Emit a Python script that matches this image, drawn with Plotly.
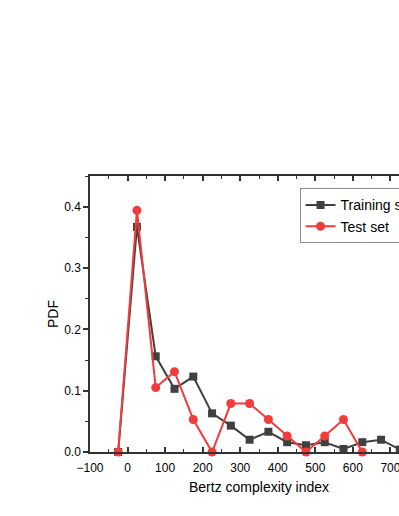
import plotly.graph_objects as go

# bin centres (Bertz complexity index) and PDF values
bins = [-25, 25, 75, 125, 175, 225, 275, 325, 375, 425, 475, 525, 575, 625, 675, 725, 775]
train_pdf = [0.0, 0.367, 0.156, 0.103, 0.123, 0.063, 0.043, 0.020, 0.033, 0.016,
             0.011, 0.016, 0.005, 0.016, 0.020, 0.004, 0.0]
test_bins = [-25, 25, 75, 125, 175, 225, 275, 325, 375, 425, 475, 525, 575, 625]
test_pdf = [0.0, 0.394, 0.105, 0.131, 0.053, 0.0, 0.079, 0.079, 0.053, 0.026,
            0.0, 0.026, 0.053, 0.0]

FONT = "Liberation Sans, Arial, sans-serif"
AXIS = "#333333"

fig = go.Figure()

fig.add_trace(go.Scatter(
    x=bins, y=train_pdf, name="Training set", mode="lines+markers",
    line=dict(color="#404040", width=2),
    marker=dict(symbol="square", size=8, color="#404040"),
    cliponaxis=False,
))
fig.add_trace(go.Scatter(
    x=test_bins, y=test_pdf, name="Test set", mode="lines+markers",
    line=dict(color="#f23b3b", width=2),
    marker=dict(symbol="circle", size=9, color="#f23b3b"),
    cliponaxis=False,
))
# invisible trace so the top axis gets drawn
fig.add_trace(go.Scatter(x=[None], y=[None], xaxis="x2", showlegend=False, hoverinfo="skip"))

fig.update_layout(
    width=470, height=516,
    margin=dict(l=90, r=42, t=176, b=64),
    paper_bgcolor="white", plot_bgcolor="white",
    font=dict(family=FONT, color="black", size=12),
    showlegend=True,
    legend=dict(
        x=0.62, y=0.955, xanchor="left", yanchor="top",
        bgcolor="white", bordercolor="#8a8a8a", borderwidth=1,
        font=dict(size=14), tracegroupgap=0, itemwidth=30,
    ),
    xaxis=dict(
        range=[-100, 800], dtick=100, tick0=0,
        showgrid=False, zeroline=False,
        showline=True, linecolor=AXIS, linewidth=1.5,
        ticks="inside", ticklen=5, tickcolor=AXIS, tickwidth=1.5,
        minor=dict(ticks="inside", ticklen=3, dtick=50, tickcolor=AXIS, tickwidth=1.2),
        tickfont=dict(size=12), ticklabelstandoff=4,
        title=dict(text="Bertz complexity index", font=dict(size=14), standoff=8),
    ),
    xaxis2=dict(
        overlaying="x", side="top", matches="x",
        range=[-100, 800], dtick=100, tick0=0,
        showgrid=False, zeroline=False, showticklabels=False,
        showline=True, linecolor=AXIS, linewidth=1.5,
        ticks="inside", ticklen=5, tickcolor=AXIS, tickwidth=1.5,
        minor=dict(ticks="inside", ticklen=3, dtick=50, tickcolor=AXIS, tickwidth=1.2),
    ),
    yaxis=dict(
        range=[0, 0.45], dtick=0.1, tickformat=".1f",
        showgrid=False, zeroline=False,
        showline=True, linecolor=AXIS, linewidth=1.5,
        ticks="outside", ticklen=5, tickcolor=AXIS, tickwidth=1.5,
        minor=dict(ticks="outside", ticklen=3, dtick=0.05, tickcolor=AXIS, tickwidth=1.2),
        tickfont=dict(size=12),
        title=dict(text="PDF", font=dict(size=14), standoff=2),
    ),
)

fig.write_html(
    "out.html",
    config={"displayModeBar": False},
    post_script="document.body.style.margin='0';document.body.style.overflow='hidden';",
)
